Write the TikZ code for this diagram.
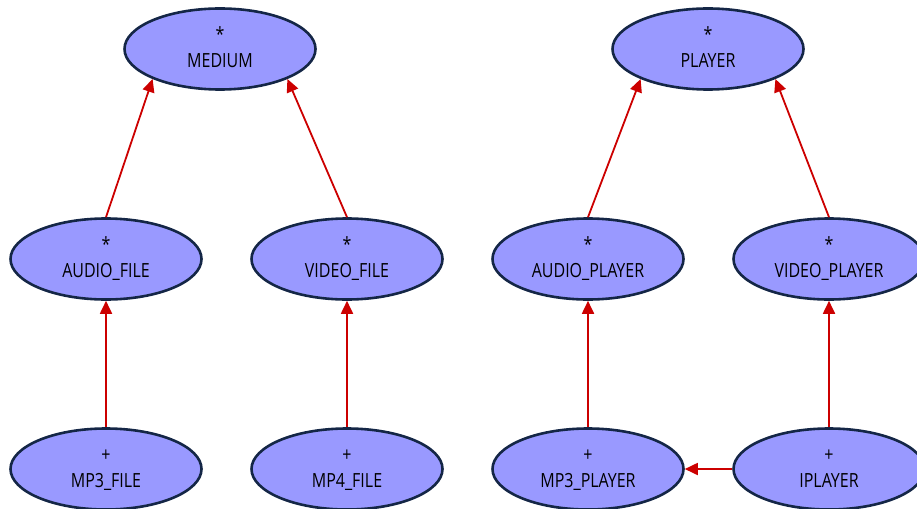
\documentclass[tikz,border=0pt]{standalone}
\usepackage{fontspec}
\setmainfont[FakeStretch=0.82]{Open Sans}
\usepackage{tikz}
\usetikzlibrary{shapes.geometric,arrows.meta}
\definecolor{cls}{RGB}{153,153,255}
\definecolor{clsline}{RGB}{20,38,70}
\definecolor{inh}{RGB}{204,0,0}

\begin{document}
\begin{tikzpicture}[x=1pt,y=-1pt,
  classe/.style={ellipse,draw=clsline,fill=cls,line width=2.6pt,
    minimum width=191pt,minimum height=81pt,inner sep=0pt,align=center,
    font=\fontsize{19.5}{26}\selectfont,yshift=-2pt},
  herite/.style={draw=inh,line width=1.8pt,-{Triangle[length=13pt,width=12pt]}}]
\useasboundingbox (0,0) rectangle (917,508);
% niveau du haut
\node[classe] (medium) at (220,47) {\strut*\\\strut MEDIUM};
\node[classe] (player) at (708,47) {\strut*\\\strut PLAYER};
% niveau du milieu
\node[classe] (audiofile) at (106,257) {\strut*\\\strut AUDIO\_FILE};
\node[classe] (videofile) at (347,257) {\strut*\\\strut VIDEO\_FILE};
\node[classe] (audioplayer) at (588,257) {\strut*\\\strut AUDIO\_PLAYER};
\node[classe] (videoplayer) at (829,257) {\strut*\\\strut VIDEO\_PLAYER};
% niveau du bas
\node[classe] (mpfile) at (106,467) {\strut+\\\strut MP3\_FILE};
\node[classe] (mpquatre) at (347,467) {\strut+\\\strut MP4\_FILE};
\node[classe] (mpplayer) at (588,467) {\strut+\\\strut MP3\_PLAYER};
\node[classe] (iplayer) at (829,467) {\strut+\\\strut IPLAYER};
% heritage
\draw[herite] (audiofile.north) -- (medium.204);
\draw[herite] (videofile.north) -- (medium.336);
\draw[herite] (audioplayer.north) -- (player.204);
\draw[herite] (videoplayer.north) -- (player.336);
\draw[herite] (mpfile.north) -- (audiofile.south);
\draw[herite] (mpquatre.north) -- (videofile.south);
\draw[herite] (mpplayer.north) -- (audioplayer.south);
\draw[herite] (iplayer.north) -- (videoplayer.south);
\draw[herite] (iplayer.west) -- (mpplayer.east);
\end{tikzpicture}
\end{document}
